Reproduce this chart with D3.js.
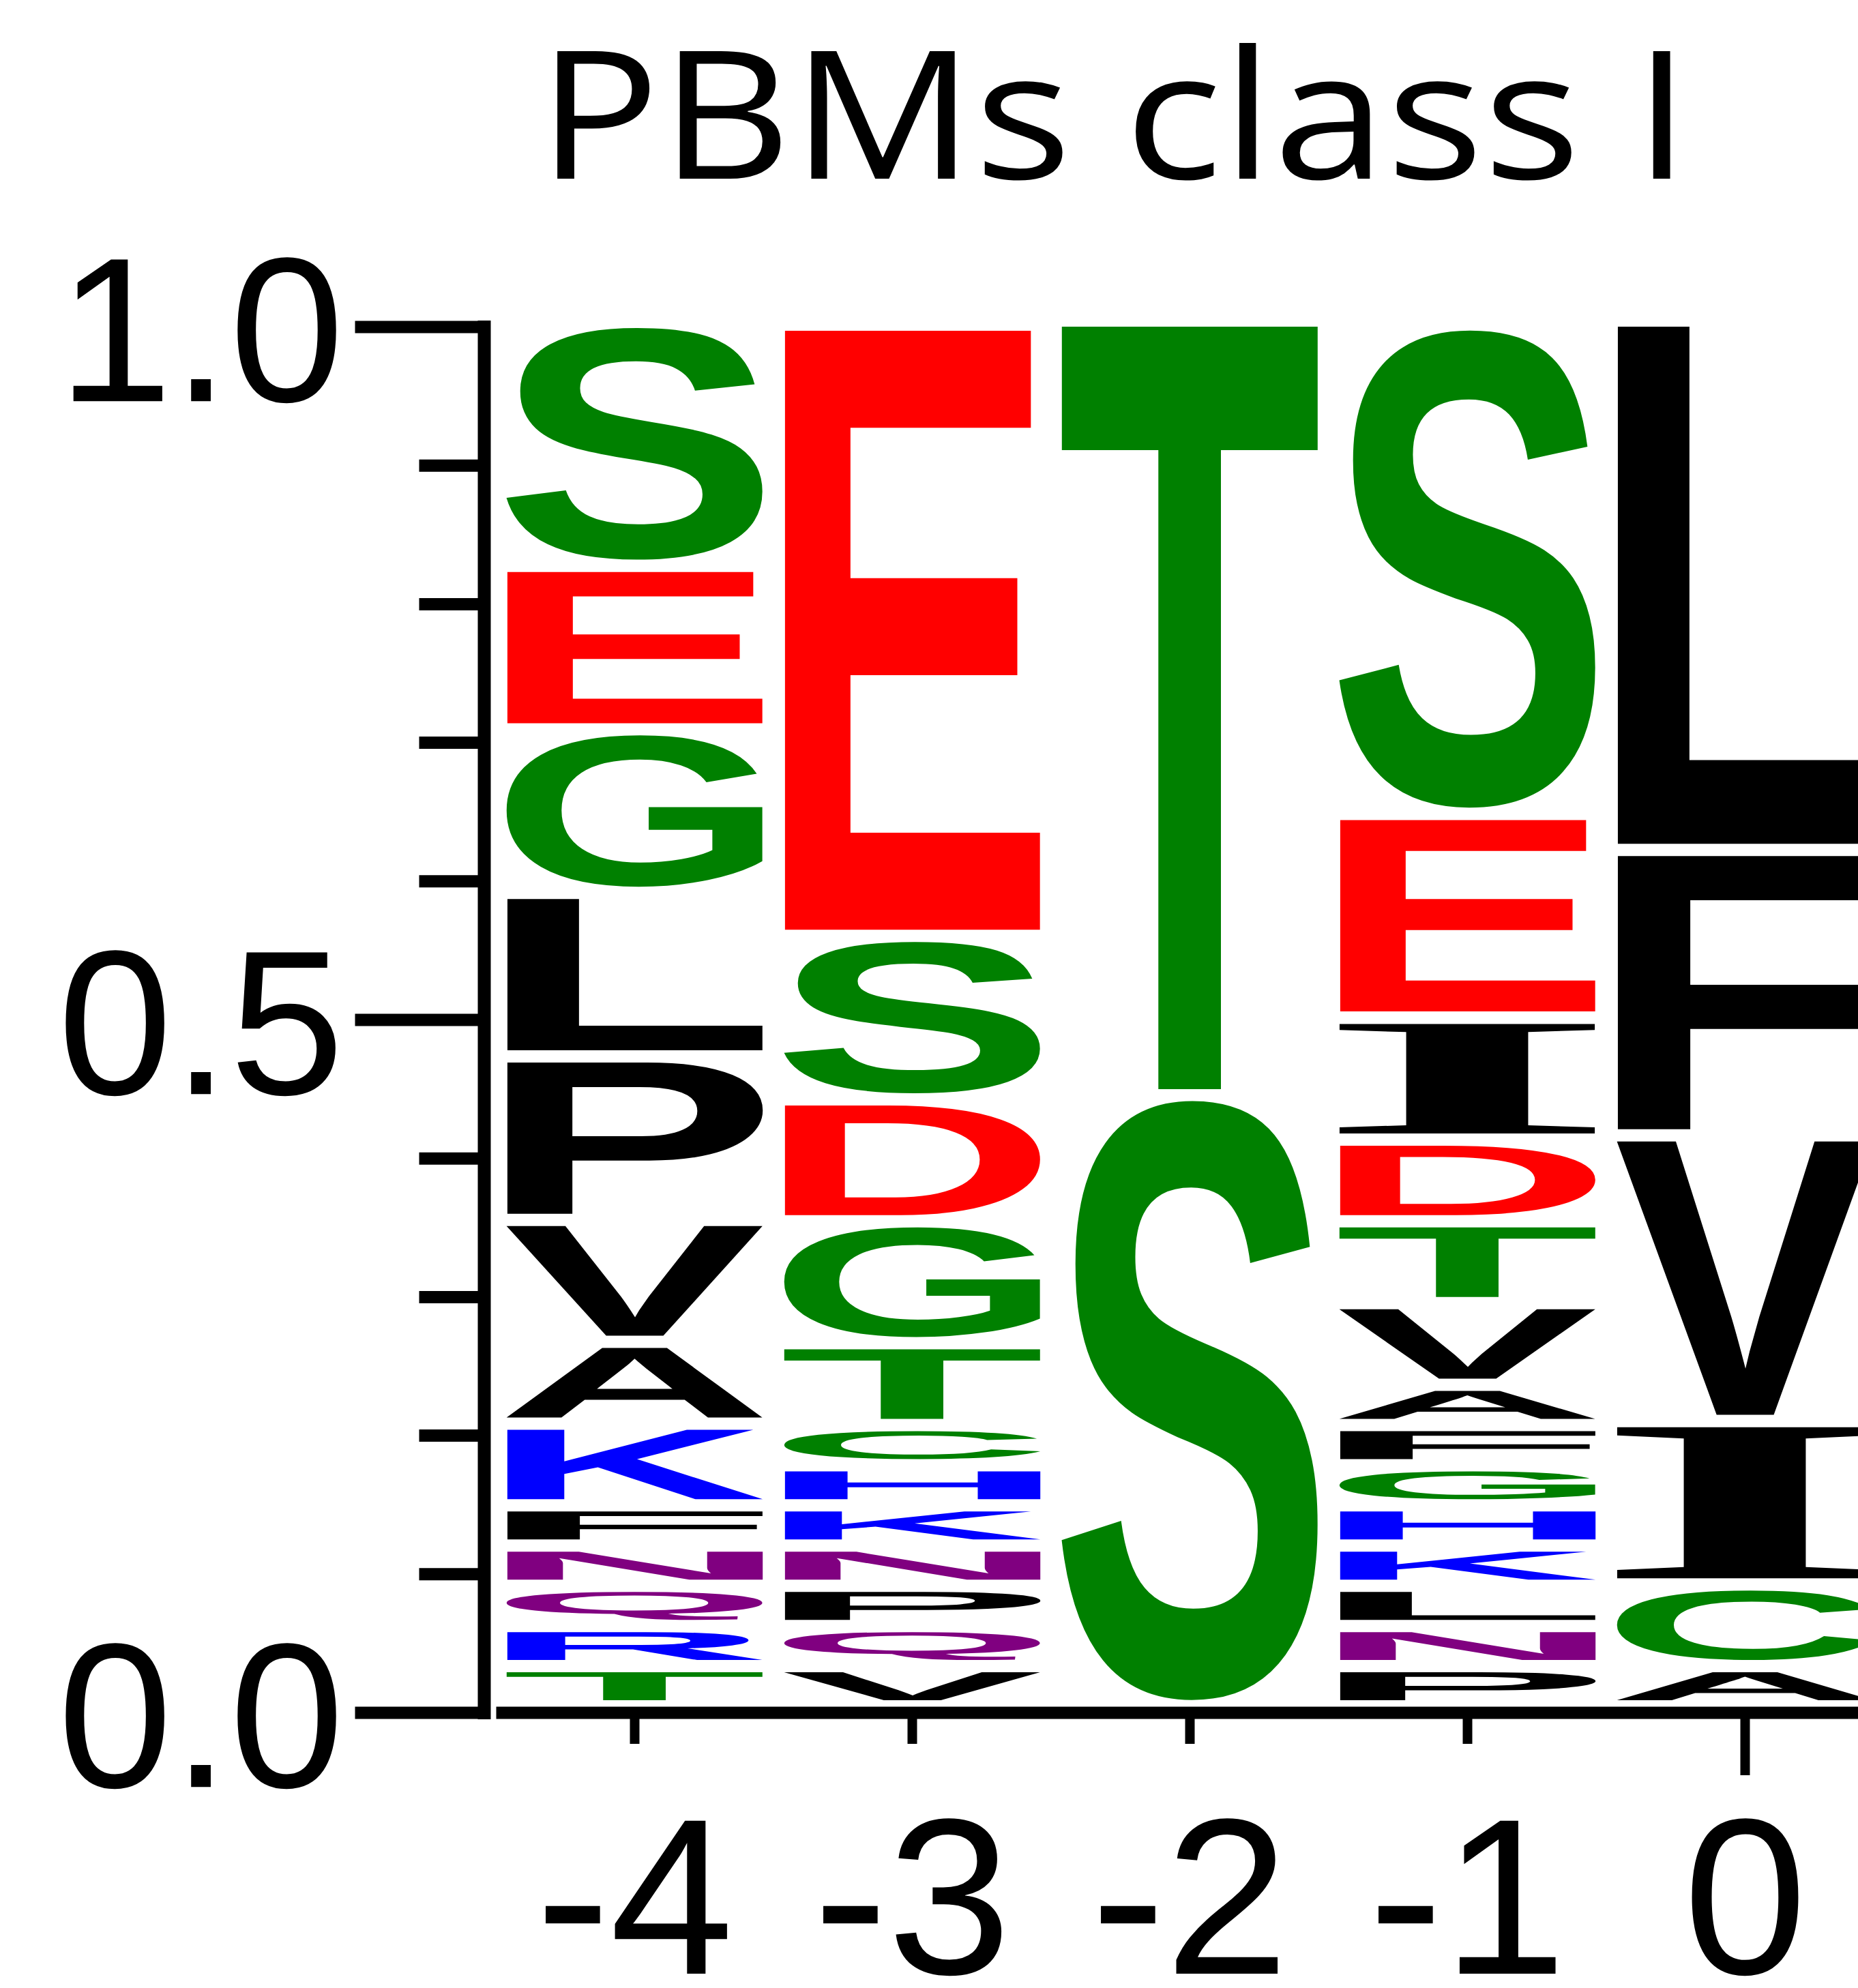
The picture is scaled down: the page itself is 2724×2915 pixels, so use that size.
<!DOCTYPE html>
<html>
<head>
<meta charset="utf-8">
<script src="https://cdn.jsdelivr.net/npm/d3@7/dist/d3.min.js"></script>
<style>
body { margin: 0; background: #fff; }
svg { display: block; }
</style>
</head>
<body>
<div id="logo"></div>
<script>
// positions along the motif
var positions = ["-4", "-3", "-2", "-1", "0"];

// letters per position, listed bottom to top, with their frequencies
var lettersM4 = ["T", "R", "Q", "N", "F", "K", "A", "V", "P", "L", "G", "E", "S"];
var freqsM4   = [0.029, 0.029, 0.029, 0.029, 0.029, 0.059, 0.059, 0.088, 0.118, 0.118, 0.118, 0.118, 0.176];

var lettersM3 = ["V", "Q", "P", "N", "K", "H", "C", "T", "G", "D", "S", "E"];
var freqsM3   = [0.029, 0.029, 0.029, 0.029, 0.029, 0.029, 0.029, 0.059, 0.088, 0.088, 0.118, 0.441];

var lettersM2 = ["S", "T"];
var freqsM2   = [0.441, 0.559];

var lettersM1 = ["P", "N", "L", "K", "H", "G", "F", "A", "V", "T", "D", "I", "E", "S"];
var freqsM1   = [0.029, 0.029, 0.029, 0.029, 0.029, 0.029, 0.029, 0.029, 0.059, 0.059, 0.059, 0.088, 0.147, 0.353];

var letters0  = ["A", "C", "I", "V", "F", "L"];
var freqs0    = [0.029, 0.059, 0.118, 0.206, 0.206, 0.382];

var yMajorTicks = [0, 0.5, 1.0];
var yMinorTicks = [0.1, 0.2, 0.3, 0.4, 0.6, 0.7, 0.8, 0.9];

var columns = [
	{pos: "-4", letters: lettersM4, freqs: freqsM4},
	{pos: "-3", letters: lettersM3, freqs: freqsM3},
	{pos: "-2", letters: lettersM2, freqs: freqsM2},
	{pos: "-1", letters: lettersM1, freqs: freqsM1},
	{pos: "0",  letters: letters0,  freqs: freqs0}
];

var width = 2724, height = 2915;
var letterGap = 18;
var glyphSize = 500;

var color = d3.scaleOrdinal()
	.domain(["S","T","G","C","Y", "N","Q", "K","R","H", "D","E"])
	.range(["#008000","#008000","#008000","#008000","#008000",
	        "#800080","#800080",
	        "#0000ff","#0000ff","#0000ff",
	        "#ff0000","#ff0000"])
	.unknown("#000000");

var x = d3.scaleBand().domain(positions).range([727, 2762]).paddingInner(0.08).paddingOuter(0.04);
var y = d3.scaleLinear().domain([0, 1]).range([2511, 479]);

var svg = d3.select("#logo").append("svg")
	.attr("width", width)
	.attr("height", height);

// title
svg.append("text")
	.attr("x", 1633)
	.attr("y", 262)
	.attr("text-anchor", "middle")
	.attr("font-family", "'Open Sans', 'Noto Sans', sans-serif")
	.attr("font-size", 262)
	.attr("textLength", 1690)
	.attr("lengthAdjust", "spacingAndGlyphs")
	.text("PBMs class I");

// ink bounds of a glyph (scanned from a canvas), so letters can be stretched to fill their slot
var canvas = document.createElement("canvas");
canvas.width = 1000;
canvas.height = 1000;
var ctx = canvas.getContext("2d");
var inkCache = {};
function glyphFont(ch) {
	return ch == "I" ? "'Liberation Serif'" : "'Liberation Sans'";
}
function inkBox(ch) {
	if (inkCache[ch]) return inkCache[ch];
	var ox = 250, oy = 700;
	ctx.clearRect(0, 0, 1000, 1000);
	ctx.font = "bold " + glyphSize + "px " + glyphFont(ch);
	ctx.fillStyle = "#000";
	ctx.textBaseline = "alphabetic";
	ctx.fillText(ch, ox, oy);
	var data = ctx.getImageData(0, 0, 1000, 1000).data;
	var minX = 1000, maxX = -1, minY = 1000, maxY = -1;
	for (var j = 0; j < 1000; j++) {
		for (var i = 0; i < 1000; i++) {
			if (data[(j * 1000 + i) * 4 + 3] > 127) {
				if (i < minX) minX = i;
				if (i > maxX) maxX = i;
				if (j < minY) minY = j;
				if (j > maxY) maxY = j;
			}
		}
	}
	inkCache[ch] = {x0: minX - ox, x1: maxX + 1 - ox, y0: minY - oy, y1: maxY + 1 - oy};
	return inkCache[ch];
}

var logo = svg.append("g").attr("class", "letters");

columns.forEach(function(col) {
	var cum = 0;
	col.letters.forEach(function(ch, i) {
		var v = col.freqs[i];
		var top = y(cum + v);
		var bottom = y(cum) - letterGap;
		cum += v;
		var b = inkBox(ch);
		var sx = x.bandwidth() / (b.x1 - b.x0);
		var sy = (bottom - top) / (b.y1 - b.y0);
		logo.append("text")
			.attr("x", 0)
			.attr("y", 0)
			.attr("font-family", glyphFont(ch))
			.attr("font-weight", "bold")
			.attr("font-size", glyphSize)
			.attr("fill", color(ch))
			.attr("transform", "translate(" + x(col.pos) + "," + top + ") scale(" + sx + "," + sy + ") translate(" + (-b.x0) + "," + (-b.y0) + ")")
			.text(ch);
	});
});

// y axis
var yAxis = svg.append("g")
	.attr("transform", "translate(709.5,0)")
	.call(d3.axisLeft(y).tickValues(yMajorTicks).tickSize(189).tickSizeOuter(0).tickPadding(16)
		.tickFormat(d3.format(".1f")));
yAxis.select(".domain")
	.attr("stroke-width", 19)
	.attr("stroke-linecap", "square");
yAxis.selectAll(".tick line").attr("stroke-width", 18);
yAxis.selectAll(".tick text")
	.attr("font-family", "'Liberation Sans', Arial, sans-serif")
	.attr("font-size", 302)
	.attr("fill", "#000")
	.attr("dy", "0.36em");

var yMinor = svg.append("g")
	.attr("transform", "translate(709.5,0)")
	.call(d3.axisLeft(y).tickValues(yMinorTicks).tickSize(95).tickFormat(""));
yMinor.select(".domain").remove();
yMinor.selectAll(".tick line").attr("stroke-width", 18);

// x axis
var xAxis = svg.append("g")
	.attr("transform", "translate(0," + y(0) + ")")
	.call(d3.axisBottom(x).tickSize(46).tickSizeOuter(0));
xAxis.select(".domain").attr("stroke-width", 18);
xAxis.selectAll(".tick line")
	.attr("stroke-width", 14)
	.attr("y2", function(d) { return d == "0" ? 92 : 46; });
xAxis.selectAll(".tick text")
	.attr("font-family", "'Liberation Sans', Arial, sans-serif")
	.attr("font-size", 326)
	.attr("fill", "#000")
	.attr("y", 2894 - y(0))
	.attr("dy", 0);
</script>
</body>
</html>
